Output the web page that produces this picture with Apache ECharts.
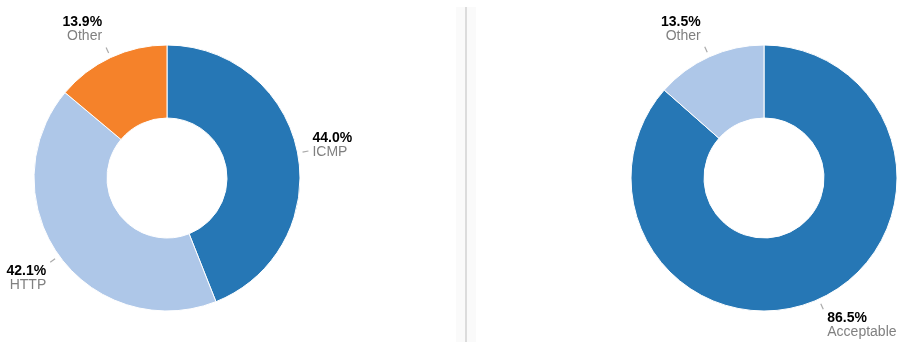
<!DOCTYPE html>
<html>
<head>
<meta charset="utf-8">
<script src="https://cdn.jsdelivr.net/npm/echarts@6/dist/echarts.min.js"></script>
<style>
html,body{margin:0;padding:0;background:#fff;}
#chart{width:899px;height:342px;}
</style>
</head>
<body>
<div id="chart"></div>
<script>
// Data
const leftNames = ['ICMP', 'HTTP', 'Other'];
const leftValues = [44.0, 42.1, 13.9];
const rightNames = ['Acceptable', 'Other'];
const rightValues = [86.5, 13.5];

// Styles
const leftColors = ['#2677b5', '#aec7e8', '#f5822a'];
const rightColors = ['#2677b5', '#aec7e8'];
const FONT = '"Liberation Sans", Arial, sans-serif';

function buildData(names, values, colors) {
  return names.map((n, i) => ({ name: n, value: values[i], itemStyle: { color: colors[i] } }));
}

function labelLayout(params) {
  const pts = params.labelLinePoints;
  if (!pts || pts.length < 2) return {};
  const p0 = pts[0], p1 = pts[1];
  const vx = p1[0] - p0[0], vy = p1[1] - p0[1];
  const len = Math.hypot(vx, vy) || 1;
  const ux = vx / len, uy = vy / len;
  const gap = 5;
  const start = [p0[0] + ux * gap, p0[1] + uy * gap];
  const r = params.labelRect;
  let targetTop;
  if (uy < -0.5) targetTop = p1[1] - 4 - r.height;
  else if (uy > 0.3) targetTop = p1[1] + 1.5;
  else targetTop = p1[1] - 19.5;
  const newPts = [start, p1];
  if (pts[2]) newPts.push(pts[2]);
  return { dy: targetTop - r.y, labelLinePoints: newPts };
}

const pieBase = {
  type: 'pie',
  radius: [60, 133],
  startAngle: 90,
  clockwise: true,
  avoidLabelOverlap: false,
  emphasis: { disabled: true },
  animation: false,
  itemStyle: { borderColor: '#ffffff', borderWidth: 1 },
  label: {
    show: true,
    position: 'outside',
    distanceToLabelLine: 4,
    formatter: function (p) { return '{p|' + p.value.toFixed(1) + '%}\n{n|' + p.name + '}'; },
    rich: {
      p: { fontFamily: FONT, fontSize: 14, fontWeight: 'bold', color: '#000000', lineHeight: 14 },
      n: { fontFamily: FONT, fontSize: 14, color: '#808080', lineHeight: 14 }
    }
  },
  labelLine: {
    show: true,
    length: 11,
    length2: 0,
    smooth: false,
    lineStyle: { color: '#aaaaaa', width: 1.2 }
  },
  labelLayout: labelLayout
};

const chart = echarts.init(document.getElementById('chart'), null, { renderer: 'canvas' });
chart.setOption({
  backgroundColor: '#ffffff',
  animation: false,
  graphic: [
    { type: 'rect', silent: true, shape: { x: 456, y: 7, width: 20, height: 335 }, style: { fill: '#fafafa' } },
    { type: 'rect', silent: true, shape: { x: 465, y: 7, width: 2, height: 335 }, style: { fill: '#dcdcdc' } }
  ],
  series: [
    Object.assign({}, pieBase, { center: [167, 178], data: buildData(leftNames, leftValues, leftColors) }),
    Object.assign({}, pieBase, { center: [764, 178], data: buildData(rightNames, rightValues, rightColors) })
  ]
});
</script>
</body>
</html>
